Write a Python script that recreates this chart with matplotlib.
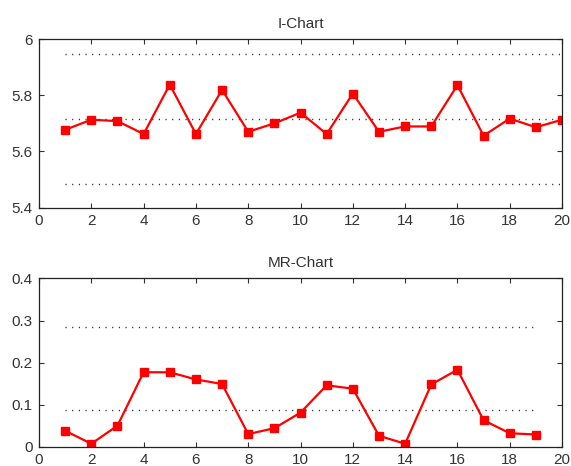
import matplotlib
matplotlib.use("Agg")
import matplotlib.pyplot as plt

# Individual measurements, samples 1..20
sample = list(range(1, 21))
i_values = [5.677, 5.713, 5.708, 5.662, 5.838, 5.662, 5.819, 5.670, 5.700, 5.738,
            5.662, 5.806, 5.670, 5.689, 5.689, 5.836, 5.656, 5.717, 5.686, 5.713]
# Moving ranges, plotted at 1..19
mr_sample = list(range(1, 20))
mr_values = [0.038, 0.007, 0.050, 0.177, 0.177, 0.160, 0.149, 0.030, 0.044, 0.081,
             0.146, 0.138, 0.026, 0.007, 0.148, 0.183, 0.063, 0.032, 0.029]

# Control limits (LCL, CL, UCL)
i_limits = [5.483, 5.715, 5.946]
mr_limits = [0.088, 0.285]

x_ticks = list(range(0, 21, 2))
i_yticks = [5.4, 5.6, 5.8, 6.0]
i_yticklabels = ["5.4", "5.6", "5.8", "6"]
mr_yticks = [0, 0.1, 0.2, 0.3, 0.4]
mr_yticklabels = ["0", "0.1", "0.2", "0.3", "0.4"]

plt.rcParams['font.family'] = ['Liberation Sans', 'DejaVu Sans']
plt.rcParams['font.size'] = 11

fig = plt.figure(figsize=(5.71, 4.66), dpi=100)
ax1 = fig.add_axes([0.0683, 0.5543, 0.916, 0.362])
ax2 = fig.add_axes([0.0683, 0.0414, 0.916, 0.361])

dot_style = dict(color="#222222", linewidth=1.0, linestyle=(0, (0.8, 4.0)))
line_style = dict(color="#ff0000", linewidth=1.6, marker="s", markersize=6,
                  markerfacecolor="#ff0000", markeredgecolor="#ff0000")


def style_axes(ax, yticks, yticklabels, ylim, title):
    ax.set_xlim(0, 20)
    ax.set_ylim(*ylim)
    ax.set_xticks(x_ticks)
    ax.set_yticks(yticks)
    ax.set_yticklabels(yticklabels)
    ax.tick_params(direction="in", length=3.6, width=0.8, top=True, right=True,
                   labelsize=11, colors="#333333", pad=4.5)
    for s in ax.spines.values():
        s.set_linewidth(0.9)
        s.set_color("#222222")
    ax.set_title(title, fontsize=11, pad=8, color="#333333")


# I-chart
for lim in i_limits:
    ax1.plot([sample[0], sample[-1]], [lim, lim], **dot_style)
ax1.plot(sample, i_values, **line_style)
style_axes(ax1, i_yticks, i_yticklabels, (5.4, 6.0), "I-Chart")

# MR-chart
for lim in mr_limits:
    ax2.plot([mr_sample[0], mr_sample[-1]], [lim, lim], **dot_style)
ax2.plot(mr_sample, mr_values, **line_style)
style_axes(ax2, mr_yticks, mr_yticklabels, (0, 0.4), "MR-Chart")

fig.savefig("out.png", dpi=100)
